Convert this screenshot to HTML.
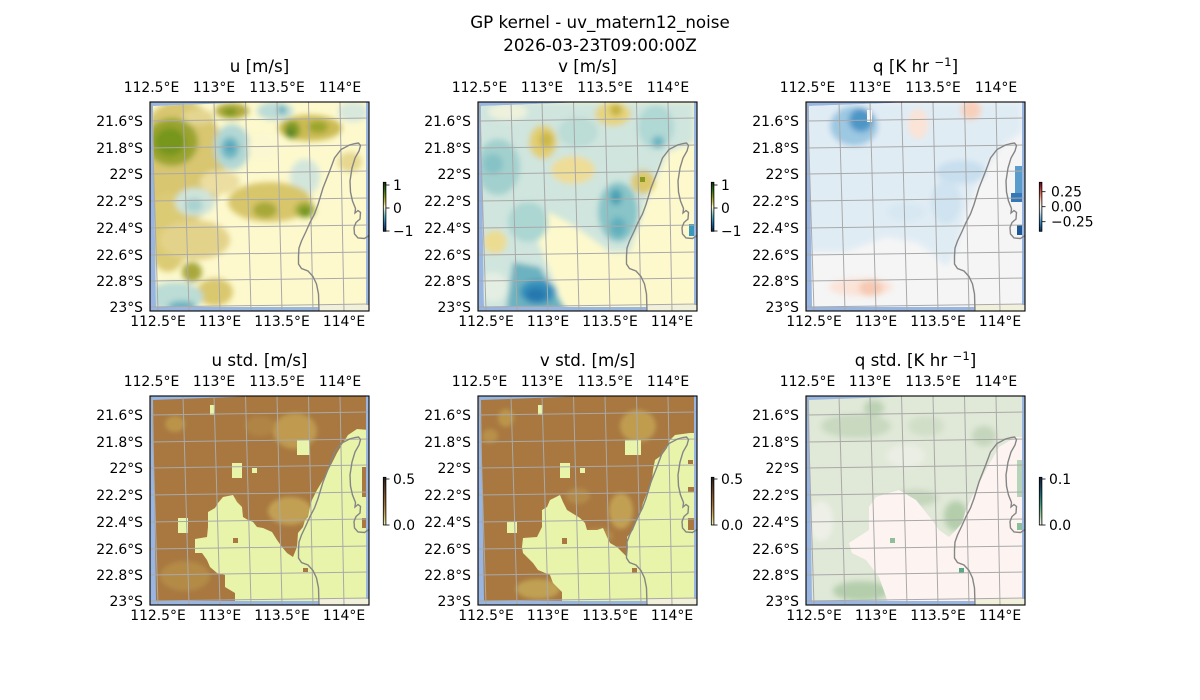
<!DOCTYPE html>
<html><head><meta charset="utf-8"><style>
html,body{margin:0;padding:0;background:#fff;}
svg{display:block;}
text{font-family:"DejaVu Sans","Liberation Sans",sans-serif;fill:#000;}
.t{font-size:16.7px;text-anchor:middle;}
.k{font-size:13.9px;}
.xm{text-anchor:middle;}
.ye{text-anchor:end;}
</style></head><body>
<svg width="1200" height="700" viewBox="0 0 1200 700" xmlns="http://www.w3.org/2000/svg">
<defs>
<clipPath id="dc"><polygon points="3,4 110,0 216,0 216,205 6,205"/></clipPath>
<filter id="b" x="-20%" y="-20%" width="140%" height="140%"><feGaussianBlur stdDeviation="3"/></filter>
<filter id="b2" x="-20%" y="-20%" width="140%" height="140%"><feGaussianBlur stdDeviation="2"/></filter>
<linearGradient id="gd" x1="0" y1="0" x2="0" y2="1">
<stop offset="0" stop-color="#18290f"/><stop offset="0.15" stop-color="#2e6a1a"/><stop offset="0.3" stop-color="#8a9a20"/><stop offset="0.42" stop-color="#d6c66a"/><stop offset="0.5" stop-color="#fffccc"/><stop offset="0.58" stop-color="#bfe0da"/><stop offset="0.7" stop-color="#5aaebb"/><stop offset="0.85" stop-color="#2266a0"/><stop offset="1" stop-color="#11203f"/>
</linearGradient>
<linearGradient id="gr" x1="0" y1="0" x2="0" y2="1">
<stop offset="0" stop-color="#67001f"/><stop offset="0.2" stop-color="#d6604d"/><stop offset="0.4" stop-color="#fddbc7"/><stop offset="0.5" stop-color="#f7f7f7"/><stop offset="0.6" stop-color="#d1e5f0"/><stop offset="0.8" stop-color="#4393c3"/><stop offset="1" stop-color="#053061"/>
</linearGradient>
<linearGradient id="gt" x1="0" y1="0" x2="0" y2="1">
<stop offset="0" stop-color="#221e1b"/><stop offset="0.3" stop-color="#6a4a2a"/><stop offset="0.6" stop-color="#a87840"/><stop offset="0.8" stop-color="#cdb06a"/><stop offset="1" stop-color="#e9f6ab"/>
</linearGradient>
<linearGradient id="gm" x1="0" y1="0" x2="0" y2="1">
<stop offset="0" stop-color="#151d44"/><stop offset="0.3" stop-color="#1a5a6c"/><stop offset="0.55" stop-color="#3d9880"/><stop offset="0.8" stop-color="#a0cfa0"/><stop offset="1" stop-color="#fff6f4"/>
</linearGradient>
<g id="ov">
<rect x="169" y="203" width="50" height="6" fill="#f0f0db"/>
<g stroke="#a9a9a9" stroke-width="1" fill="none">
<line x1="1.5" y1="0" x2="8" y2="209"/><line x1="33" y1="0" x2="39" y2="209"/><line x1="64" y1="0" x2="70" y2="209"/><line x1="95.5" y1="0" x2="101" y2="209"/><line x1="127" y1="0" x2="132" y2="209"/><line x1="158.5" y1="0" x2="163" y2="209"/><line x1="190" y1="0" x2="194" y2="209"/>
<line x1="0" y1="19" x2="219" y2="16"/><line x1="0" y1="46" x2="219" y2="43"/><line x1="0" y1="72" x2="219" y2="69"/><line x1="0" y1="99" x2="219" y2="96"/><line x1="0" y1="126" x2="219" y2="123"/><line x1="0" y1="153" x2="219" y2="150"/><line x1="0" y1="179" x2="219" y2="176"/><line x1="0" y1="205" x2="219" y2="202"/>
</g>
<path d="M169,209 L168.5,192 L166.5,182 L163,174.5 L158,169 L151.5,166.5 L148.5,162 L148.5,154 L149,146 L151.5,139 L156,129.5 L160,120.5 L164.5,112 L168,102.5 L173,86 L179.5,69.5 L184.5,56 L191,47.5 L199.5,43 L205,41.5 L208.5,41 L210.5,43.5 L209,49 L205,56 L202,66 L200,79 L200.5,90 L202.5,99 L205.5,106.5 L205,111 L208,108.5 L210.5,110.5 L210,117 L206,120.5 L204,125.5 L204.5,132 L208,136 L214.5,136.5 L219,133.5" fill="none" stroke="#858585" stroke-width="1.4"/>
<rect x="0" y="0" width="219" height="209" fill="none" stroke="#000" stroke-width="1.1"/>
<g class="k">
<text x="1.5" y="-10" class="xm">112.5°E</text><text x="64" y="-10" class="xm">113°E</text><text x="127" y="-10" class="xm">113.5°E</text><text x="190" y="-10" class="xm">114°E</text>
<text x="8" y="224" class="xm">112.5°E</text><text x="70" y="224" class="xm">113°E</text><text x="132" y="224" class="xm">113.5°E</text><text x="194" y="224" class="xm">114°E</text>
<text x="-7" y="24" class="ye">21.6°S</text><text x="-7" y="51" class="ye">21.8°S</text><text x="-7" y="77" class="ye">22°S</text><text x="-7" y="104" class="ye">22.2°S</text><text x="-7" y="131" class="ye">22.4°S</text><text x="-7" y="158" class="ye">22.6°S</text><text x="-7" y="184" class="ye">22.8°S</text><text x="-7" y="210" class="ye">23°S</text>
</g>
</g>
</defs>

<text x="600" y="28" class="t">GP kernel - uv_matern12_noise</text>
<text x="600" y="51" class="t">2026-03-23T09:00:00Z</text>

<!-- Panel 1: u -->
<g transform="translate(150,102)">
<rect width="219" height="209" fill="#98b6e1"/>
<g clip-path="url(#dc)">
<rect width="219" height="209" fill="#fdf9cd"/>
<g filter="url(#b)">
<ellipse cx="30" cy="60" rx="45" ry="62" fill="#d8c670"/>
<ellipse cx="18" cy="130" rx="22" ry="40" fill="#dccb75"/>
<ellipse cx="45" cy="138" rx="35" ry="20" fill="#e3d38a"/>
<ellipse cx="48" cy="15" rx="16" ry="8" fill="#e4d690"/>
<ellipse cx="22" cy="40" rx="26" ry="24" fill="#9aa42e"/>
<ellipse cx="20" cy="40" rx="15" ry="14" fill="#76961e"/>
<ellipse cx="45" cy="100" rx="20" ry="14" fill="#cfe4da"/>
<ellipse cx="44" cy="103" rx="9" ry="7" fill="#a8d2d0"/>
<ellipse cx="70" cy="80" rx="20" ry="12" fill="#ecdea0"/>
<ellipse cx="82" cy="45" rx="18" ry="23" fill="#b3d7d4"/>
<ellipse cx="80" cy="46" rx="9" ry="11" fill="#6cb6c2"/>
<ellipse cx="80" cy="45" rx="3" ry="3" fill="#3a8cba"/>
<ellipse cx="82" cy="9" rx="17" ry="8" fill="#b0aa40"/>
<ellipse cx="80" cy="10" rx="7" ry="4" fill="#78961e"/>
<ellipse cx="112" cy="45" rx="14" ry="14" fill="#fbf7d0"/>
<ellipse cx="125" cy="9" rx="18" ry="9" fill="#bcdcd8"/>
<ellipse cx="132" cy="8" rx="4" ry="4" fill="#5aaab8"/>
<ellipse cx="160" cy="26" rx="32" ry="13" fill="#ccbc55"/>
<ellipse cx="142" cy="28" rx="8" ry="9" fill="#7a9820"/>
<ellipse cx="168" cy="25" rx="10" ry="6" fill="#9aa42c"/>
<ellipse cx="140" cy="31" rx="3" ry="3" fill="#2a7030"/>
<ellipse cx="155" cy="75" rx="15" ry="18" fill="#d3e6dc"/>
<ellipse cx="120" cy="100" rx="42" ry="20" fill="#d8c66a"/>
<ellipse cx="115" cy="108" rx="12" ry="8" fill="#a6a838"/>
<ellipse cx="155" cy="108" rx="10" ry="8" fill="#9aa630"/>
<ellipse cx="155" cy="110" rx="4" ry="4" fill="#5a9020"/>
<ellipse cx="42" cy="170" rx="10" ry="10" fill="#a9a83c"/>
<ellipse cx="65" cy="190" rx="18" ry="14" fill="#dac86e"/>
<ellipse cx="25" cy="195" rx="28" ry="15" fill="#bcdcd6"/>
<ellipse cx="32" cy="204" rx="14" ry="5" fill="#6ab4c0"/>
<ellipse cx="200" cy="60" rx="12" ry="10" fill="#e6d890"/>
<ellipse cx="203" cy="10" rx="15" ry="10" fill="#d8e8dc"/>
</g>
</g>
<use href="#ov"/>
<text x="109.5" y="-30" class="t">u [m/s]</text>
</g>

<!-- Panel 2: v -->
<g transform="translate(478,102)">
<rect width="219" height="209" fill="#98b6e1"/>
<g clip-path="url(#dc)">
<rect width="219" height="209" fill="#fdf9cd"/>
<g filter="url(#b)">
<polygon points="0,0 216,0 216,40 190,50 168,100 152,150 132,150 112,135 90,120 70,110 60,140 80,190 85,209 0,209" fill="#cfe5de"/>
<ellipse cx="20" cy="65" rx="22" ry="28" fill="#a2d0ce"/>
<ellipse cx="15" cy="62" rx="10" ry="10" fill="#86c2c6"/>
<ellipse cx="50" cy="120" rx="20" ry="20" fill="#acd6d2"/>
<ellipse cx="100" cy="30" rx="20" ry="15" fill="#bcdcd6"/>
<ellipse cx="65" cy="40" rx="14" ry="17" fill="#e2cf72"/>
<ellipse cx="68" cy="38" rx="7" ry="8" fill="#ccb848"/>
<ellipse cx="135" cy="12" rx="18" ry="12" fill="#e6d47e"/>
<ellipse cx="138" cy="8" rx="6" ry="6" fill="#c4b23e"/>
<ellipse cx="95" cy="68" rx="22" ry="14" fill="#eedd96"/>
<ellipse cx="165" cy="80" rx="12" ry="12" fill="#dcc86a"/>
<ellipse cx="178" cy="25" rx="18" ry="22" fill="#b0d8d4"/>
<ellipse cx="180" cy="40" rx="6" ry="6" fill="#6ab4c0"/>
<ellipse cx="140" cy="110" rx="20" ry="30" fill="#88c4c8"/>
<ellipse cx="138" cy="95" rx="6" ry="8" fill="#4aa0b4"/>
<ellipse cx="140" cy="125" rx="8" ry="10" fill="#62b0be"/>
<ellipse cx="17" cy="140" rx="12" ry="12" fill="#ecdc92"/>
<ellipse cx="15" cy="185" rx="15" ry="15" fill="#e4eee2"/>
<ellipse cx="30" cy="10" rx="20" ry="8" fill="#eef2dc"/>
<polygon points="35,160 62,165 88,209 28,209" fill="#6cb2c0"/>
<ellipse cx="60" cy="190" rx="18" ry="12" fill="#3490bc"/>
<ellipse cx="58" cy="193" rx="10" ry="7" fill="#2578ae"/>
</g>
<rect x="162" y="75" width="5" height="5" fill="#8a9a20"/>
<rect x="211" y="122" width="5" height="12" fill="#3a98b8"/>
</g>
<use href="#ov"/>
<text x="109.5" y="-30" class="t">v [m/s]</text>
</g>

<!-- Panel 3: q -->
<g transform="translate(806,102)">
<rect width="219" height="209" fill="#98b6e1"/>
<g clip-path="url(#dc)">
<rect width="219" height="209" fill="#f5f5f5"/>
<g filter="url(#b)">
<polygon points="0,0 216,0 216,30 195,45 175,75 160,110 150,150 140,165 125,150 110,140 80,135 40,150 0,150" fill="#e0ecf4"/>
<ellipse cx="48" cy="24" rx="24" ry="20" fill="#9cc8e2"/>
<ellipse cx="55" cy="18" rx="12" ry="12" fill="#4e96c8"/>
<ellipse cx="155" cy="70" rx="25" ry="12" fill="#c8dfef"/>
<ellipse cx="140" cy="100" rx="15" ry="22" fill="#cfe3f0"/>
<ellipse cx="100" cy="110" rx="20" ry="10" fill="#d8e8f2"/>
<ellipse cx="112" cy="22" rx="10" ry="15" fill="#fbe3d6"/>
<ellipse cx="165" cy="8" rx="10" ry="10" fill="#f8cfba"/>
<ellipse cx="55" cy="185" rx="32" ry="9" fill="#fbe3d7"/>
<ellipse cx="65" cy="186" rx="12" ry="8" fill="#f6c9b2"/>
</g>
<rect x="61" y="8" width="5" height="12" fill="#f7f7f7"/>
<rect x="209" y="64" width="7" height="28" fill="#5a9ccc"/>
<rect x="205" y="91" width="11" height="9" fill="#3578b8"/>
<rect x="211" y="123" width="5" height="10" fill="#1d5796"/>
</g>
<use href="#ov"/>
<text x="109.5" y="-30" class="t">q [K hr <tspan dy="-6" font-size="11.7">−1</tspan><tspan dy="6">]</tspan></text>
</g>

<!-- Panel 4: u std -->
<g transform="translate(150,396)">
<rect width="219" height="209" fill="#98b6e1"/>
<g clip-path="url(#dc)">
<rect width="219" height="209" fill="#a87840"/>
<g filter="url(#b2)">
<ellipse cx="145" cy="35" rx="22" ry="18" fill="#bf9a50"/>
<ellipse cx="140" cy="115" rx="22" ry="14" fill="#c2a052"/>
<ellipse cx="25" cy="28" rx="10" ry="8" fill="#bb9448"/>
<ellipse cx="35" cy="180" rx="25" ry="15" fill="#b48a46"/>
<ellipse cx="110" cy="30" rx="15" ry="10" fill="#b08444"/>
<ellipse cx="80" cy="110" rx="10" ry="8" fill="#b48a48"/>
</g>
<polygon points="85,209 85,197 75,191 75,179 67,177 60,171 57,164 52,157 45,157 45,143 57,141 58,131 58,116 65,112 68,107 73,101 83,99 87,106 92,111 93,121 98,124 103,126 107,131 113,132 122,136 127,144 132,151 137,157 143,161 147,151 148,137 153,131 155,124 158,121 160,111 162,104 167,94 173,84 180,71 187,57 193,47 198,39 207,33 219,34 219,209" fill="#e8f4a9"/>
<g fill="#e8f4a9">
<rect x="147" y="44" width="13" height="15"/><rect x="82" y="67" width="10" height="15"/><rect x="102" y="72" width="5" height="5"/><rect x="60" y="9" width="5" height="10"/><rect x="28" y="122" width="10" height="15"/>
</g>
<g fill="#a87840">
<rect x="83" y="142" width="5" height="5"/><rect x="153" y="172" width="5" height="4"/><rect x="212" y="71" width="4" height="30"/><rect x="212" y="122" width="4" height="10"/>
</g>
</g>
<use href="#ov"/>
<text x="109.5" y="-30" class="t">u std. [m/s]</text>
</g>

<!-- Panel 5: v std -->
<g transform="translate(478,396)">
<rect width="219" height="209" fill="#98b6e1"/>
<g clip-path="url(#dc)">
<rect width="219" height="209" fill="#a87840"/>
<g filter="url(#b2)">
<ellipse cx="28" cy="22" rx="8" ry="9" fill="#bb9448"/>
<ellipse cx="160" cy="30" rx="18" ry="16" fill="#c09c50"/>
<ellipse cx="143" cy="115" rx="12" ry="18" fill="#c2a052"/>
<ellipse cx="12" cy="40" rx="8" ry="7" fill="#b89048"/>
<ellipse cx="60" cy="193" rx="22" ry="10" fill="#c0a052"/>
<ellipse cx="120" cy="140" rx="15" ry="8" fill="#b48a48"/>
<ellipse cx="100" cy="100" rx="12" ry="8" fill="#b48a48"/>
</g>
<polygon points="84,209 84,196 75,187 72,179 60,174 55,167 50,162 45,157 44,151 45,142 59,141 64,131 64,114 69,111 72,104 82,99 85,106 89,114 102,122 107,127 109,134 119,134 125,132 129,141 132,147 139,151 145,157 149,161 150,151 149,141 155,134 159,124 162,119 165,107 169,97 174,84 175,74 177,64 184,59 189,52 192,44 197,39 212,37 219,37 219,209" fill="#e8f4a9"/>
<g fill="#e8f4a9">
<rect x="29" y="126" width="10" height="11"/><rect x="82" y="67" width="10" height="15"/><rect x="102" y="72" width="5" height="5"/><rect x="147" y="44" width="16" height="15"/><rect x="60" y="9" width="5" height="10"/>
</g>
<g fill="#a87840">
<rect x="84" y="142" width="5" height="6"/><rect x="154" y="172" width="5" height="5"/><rect x="210" y="91" width="6" height="5"/><rect x="210" y="122" width="6" height="12"/><rect x="210" y="64" width="5" height="4"/>
</g>
</g>
<use href="#ov"/>
<text x="109.5" y="-30" class="t">v std. [m/s]</text>
</g>

<!-- Panel 6: q std -->
<g transform="translate(806,396)">
<rect width="219" height="209" fill="#98b6e1"/>
<g clip-path="url(#dc)">
<rect width="219" height="209" fill="#e0e8d7"/>
<g filter="url(#b)">
<ellipse cx="50" cy="30" rx="35" ry="12" fill="#c8d9c0"/>
<ellipse cx="68" cy="12" rx="10" ry="8" fill="#bcd2b4"/>
<ellipse cx="55" cy="195" rx="28" ry="10" fill="#b4ceac"/>
<ellipse cx="150" cy="120" rx="12" ry="15" fill="#b4ceac"/>
<ellipse cx="178" cy="40" rx="12" ry="10" fill="#c4d6bc"/>
<ellipse cx="110" cy="102" rx="22" ry="8" fill="#c4d6bc"/>
<ellipse cx="15" cy="125" rx="12" ry="20" fill="#eef0e8"/>
<ellipse cx="120" cy="30" rx="18" ry="10" fill="#d0dec8"/>
<ellipse cx="100" cy="60" rx="20" ry="12" fill="#eaeee4"/>
</g>
<polygon points="83,209 73,181 60,164 46,157 43,147 63,134 63,111 70,101 93,94 110,104 126,124 133,134 143,141 150,134 156,127 160,114 166,101 180,74 193,51 210,41 219,41 219,209" fill="#fdf4f1"/>
<rect x="84" y="142" width="5" height="5" fill="#8fbe9a"/>
<rect x="153" y="172" width="5" height="5" fill="#5aa888"/>
<rect x="211" y="64" width="5" height="37" fill="#b8d4b8"/>
<rect x="211" y="127" width="5" height="7" fill="#8cbf9a"/>
</g>
<use href="#ov"/>
<text x="109.5" y="-30" class="t">q std. [K hr <tspan dy="-6" font-size="11.7">−1</tspan><tspan dy="6">]</tspan></text>
</g>

<!-- Colorbars -->
<g stroke="#000" stroke-width="0.8">
<rect x="383.3" y="182.3" width="2.6" height="49" fill="url(#gd)"/>
<line x1="385.9" y1="185" x2="389.5" y2="185"/><line x1="385.9" y1="208" x2="389.5" y2="208"/><line x1="385.9" y1="231" x2="389.5" y2="231"/>
<rect x="711.3" y="182.3" width="2.6" height="49" fill="url(#gd)"/>
<line x1="713.9" y1="185" x2="717.5" y2="185"/><line x1="713.9" y1="208" x2="717.5" y2="208"/><line x1="713.9" y1="231" x2="717.5" y2="231"/>
<rect x="1039.3" y="182.3" width="2.6" height="49" fill="url(#gr)"/>
<line x1="1041.9" y1="191.7" x2="1045.5" y2="191.7"/><line x1="1041.9" y1="206.7" x2="1045.5" y2="206.7"/><line x1="1041.9" y1="221.7" x2="1045.5" y2="221.7"/>
<rect x="383.3" y="477.3" width="2.6" height="47.7" fill="url(#gt)"/>
<line x1="385.9" y1="479" x2="389.5" y2="479"/><line x1="385.9" y1="525" x2="389.5" y2="525"/>
<rect x="711.3" y="477.3" width="2.6" height="47.7" fill="url(#gt)"/>
<line x1="713.9" y1="479" x2="717.5" y2="479"/><line x1="713.9" y1="525" x2="717.5" y2="525"/>
<rect x="1039.3" y="477.3" width="2.6" height="47.7" fill="url(#gm)"/>
<line x1="1041.9" y1="479" x2="1045.5" y2="479"/><line x1="1041.9" y1="525" x2="1045.5" y2="525"/>
</g>
<g class="k">
<text x="393" y="190">1</text><text x="393" y="213">0</text><text x="393" y="236">−1</text>
<text x="721" y="190">1</text><text x="721" y="213">0</text><text x="721" y="236">−1</text>
<text x="1051" y="196.7">0.25</text><text x="1051" y="211.7">0.00</text><text x="1051" y="226.7">−0.25</text>
<text x="393" y="484">0.5</text><text x="393" y="530">0.0</text>
<text x="721" y="484">0.5</text><text x="721" y="530">0.0</text>
<text x="1049" y="484">0.1</text><text x="1049" y="530">0.0</text>
</g>
</svg>
</body></html>
